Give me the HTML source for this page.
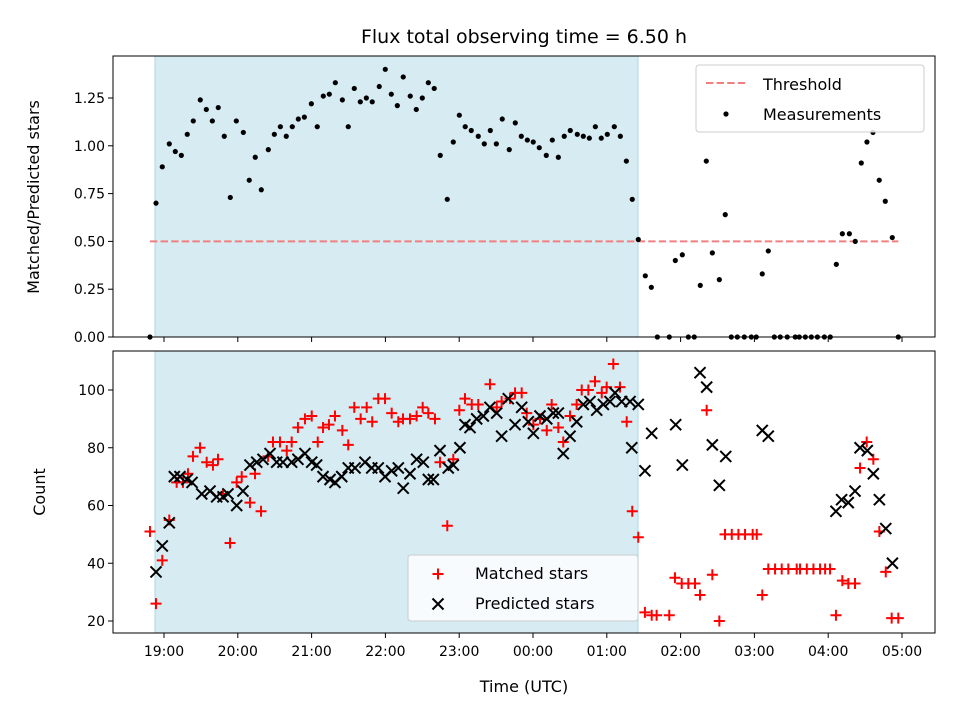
<!DOCTYPE html>
<html><head><meta charset="utf-8"><style>
body{margin:0;background:#fff;}
svg{display:block;font-family:"DejaVu Sans","Liberation Sans",sans-serif;}
</style></head><body>
<svg id="chart" width="960" height="720">
<rect width="960" height="720" fill="#fff"/>
<text x="524" y="43" font-size="19" text-anchor="middle">Flux total observing time = 6.50 h</text>
<g id="topPanel"></g>
<g id="botPanel"></g>
<text x="524" y="692" font-size="16" text-anchor="middle">Time (UTC)</text>
<text transform="translate(39,197) rotate(-90)" font-size="16" text-anchor="middle">Matched/Predicted stars</text>
<text transform="translate(45,492) rotate(-90)" font-size="16" text-anchor="middle">Count</text>
</svg>
<script>
// minutes since 19:00
const shadeRange = [-7.3, 385.4];
const threshold = 0.5;
const thresholdRange = [-11.4, 597];
const ratioTimes = [-11.4,-6.5,-1.4,4.3,9.2,14.1,18.9,23.8,29.5,34.4,39.3,44.1,49.0,53.9,58.8,64.5,69.3,74.2,79.1,84.8,89.7,94.6,99.4,104.3,109.2,114.1,119.8,124.6,129.5,134.4,139.3,145.0,149.8,154.7,159.6,164.5,169.3,175.0,179.9,184.8,189.7,194.5,200.2,205.1,210.0,214.9,219.7,224.6,230.3,235.2,240.1,244.9,249.8,255.5,260.4,265.3,270.2,275.0,280.7,285.6,290.5,295.4,300.2,305.1,310.8,315.7,320.6,325.4,330.3,336.0,340.9,345.8,350.7,355.5,360.4,366.1,371.0,375.9,380.7,385.6,391.3,396.2,401.1,410.8,415.7,421.4,426.3,431.1,436.0,440.9,445.8,451.5,456.3,461.2,466.1,471.8,477.5,481.5,486.4,491.3,496.2,501.0,506.7,513.2,516.5,521.4,526.3,531.2,536.9,541.7,546.6,551.5,557.2,562.0,566.9,571.5,576.4,581.5,586.4,592.1,597.0];
const ratioValues = [0,0.70,0.89,1.01,0.97,0.95,1.06,1.13,1.24,1.19,1.13,1.20,1.05,0.73,1.13,1.07,0.82,0.94,0.77,0.98,1.06,1.10,1.05,1.10,1.14,1.15,1.22,1.10,1.26,1.27,1.33,1.24,1.10,1.30,1.23,1.25,1.23,1.31,1.40,1.27,1.21,1.36,1.26,1.19,1.25,1.33,1.30,0.95,0.72,1.02,1.16,1.10,1.08,1.05,1.01,1.08,1.01,1.14,0.98,1.12,1.05,1.03,1.02,0.99,0.95,1.03,0.94,1.05,1.08,1.06,1.05,1.04,1.10,1.04,1.06,1.10,1.05,0.92,0.72,0.51,0.32,0.26,0,0,0.40,0.43,0,0,0.27,0.92,0.44,0.30,0.64,0,0,0,0,0,0.33,0.45,0,0,0,0,0,0,0,0,0,0,0.38,0.54,0.54,0.50,0.91,1.02,1.07,0.82,0.71,0.52,0];
const matchedTimes = [-11.4,-6.5,-1.4,4.3,10.3,15.4,19.5,23.6,29.3,34.7,39.8,43.9,48.0,53.7,59.1,63.2,69.9,74.0,78.9,84.6,88.6,94.3,99.8,103.8,108.9,114.6,120.1,125.0,129.3,134.1,139.0,145.0,149.8,154.7,159.9,164.8,169.3,174.2,179.7,185.1,190.5,194.3,200.0,205.4,210.3,214.9,220.3,224.4,230.3,235.2,240.1,244.7,250.2,255.5,265.0,270.5,274.5,281.3,285.4,290.8,294.9,300.3,305.7,311.2,315.2,320.6,324.6,330.1,335.5,339.6,345.0,350.4,355.9,359.9,365.3,370.7,376.2,380.7,385.6,391.0,396.5,400.5,410.8,415.4,420.9,426.3,431.7,435.8,441.2,445.8,451.5,456.1,461.6,467.0,472.4,478.6,481.9,486.4,491.3,496.8,502.2,507.6,514.4,517.1,522.6,528.0,533.4,537.5,541.5,546.3,551.5,556.4,561.8,565.9,571.3,576.7,581.6,586.8,591.6,597.0];
const matchedValues = [51,26,41,55,68,68,71,77,80,75,74,76,64,47,68,70,61,71,58,77,82,82,79,82,87,90,91,82,87,88,91,86,81,94,90,94,89,97,97,92,89,90,90,91,94,92,90,75,53,76,93,97,95,95,102,94,96,97,99,99,92,88,90,86,95,87,82,91,95,100,100,103,99,101,109,101,89,58,49,23,22,22,22,35,33,33,33,29,93,36,20,50,50,50,50,50,50,29,38,38,38,38,38,38,38,38,38,38,38,22,34,33,33,73,82,76,51,37,21,21];
const predictedTimes = [-6.5,-1.4,4.3,8.4,13.0,18.7,22.8,30.7,37.4,42.8,48.0,52.0,59.1,64.2,69.9,75.4,80.5,86.2,91.6,96.7,103.8,108.9,114.6,120.1,124.1,129.3,135.0,139.0,144.5,149.8,155.3,163.4,168.9,174.2,179.7,185.1,190.5,194.5,200.0,205.4,210.8,214.9,219.0,224.4,231.1,235.2,240.6,244.7,248.8,254.2,259.6,265.0,270.5,274.5,279.9,285.4,290.8,296.2,300.3,305.7,311.2,316.5,320.6,324.6,330.1,335.5,340.9,346.3,351.8,357.2,362.6,366.7,372.1,378.9,380.3,385.6,391.0,396.5,416.0,421.4,435.8,441.2,445.8,451.5,456.7,486.4,491.3,546.3,550.9,556.3,561.8,565.9,571.8,576.7,581.6,586.8,592.2];
const predictedValues = [37,46,54,70,70,69,68,64,65,63,63,64,60,65,74,75,76,78,75,75,75,76,78,75,74,70,69,68,70,73,73,75,73,73,70,72,73,66,71,76,75,69,69,79,73,74,80,88,87,90,91,94,92,84,97,88,94,89,85,91,90,92,92,78,84,89,95,96,93,95,96,99,96,96,80,95,72,85,88,74,106,101,81,67,77,86,84,58,62,61,65,80,79,71,62,52,40];
const xTickLabels = ["19:00","20:00","21:00","22:00","23:00","00:00","01:00","02:00","03:00","04:00","05:00"];
const topTickLabels = ["0.00","0.25","0.50","0.75","1.00","1.25"];
const botTickLabels = ["20","40","60","80","100"];

const NS="http://www.w3.org/2000/svg";
const X0=113,X1=935, T0=56,T1=337, B0=351,B1=633;
const xs = m => 164 + m*73.8/60;
const yTop = v => 337 - v*191.2;
const yBot = c => 621 - (c-20)*2.8875;
function mk(parent, tag, attrs){const e=document.createElementNS(NS,tag);for(const k in attrs)e.setAttribute(k,attrs[k]);parent.appendChild(e);return e;}

const topG=document.getElementById('topPanel'), botG=document.getElementById('botPanel');
[[topG,T0,T1],[botG,B0,B1]].forEach(([g,a,b],pi)=>{
  const s=mk(g,'rect',{x:xs(shadeRange[0]),y:a,width:xs(shadeRange[1])-xs(shadeRange[0]),height:b-a,fill:'#add8e6','fill-opacity':0.5,stroke:'#add8e6'});
  
  
});

const th=mk(topG,'line',{x1:xs(thresholdRange[0]),x2:xs(thresholdRange[1]),y1:yTop(threshold),y2:yTop(threshold),stroke:'#f08080','stroke-width':2,'stroke-dasharray':'7.4,3.2'});



ratioTimes.forEach((t,i)=>{
  const c=mk(topG,'circle',{cx:xs(t),cy:yTop(ratioValues[i]),r:2.6,fill:'#000'});
  
  
});
function plus(g,x,y){return mk(g,'path',{d:`M${x-5.5},${y}H${x+5.5}M${x},${y-5.5}V${y+5.5}`,stroke:'#f00','stroke-width':2,fill:'none'});}
function cross(g,x,y){return mk(g,'path',{d:`M${x-5.5},${y-5.5}L${x+5.5},${y+5.5}M${x-5.5},${y+5.5}L${x+5.5},${y-5.5}`,stroke:'#000','stroke-width':2,fill:'none'});}
matchedTimes.forEach((t,i)=>{
  const p=plus(botG,xs(t),yBot(matchedValues[i]));
  
  
});
predictedTimes.forEach((t,i)=>{
  const p=cross(botG,xs(t),yBot(predictedValues[i]));
  
  
});

[[topG,T0,T1],[botG,B0,B1]].forEach(([g,a,b],pi)=>{
  const f=mk(g,'rect',{x:X0,y:a,width:X1-X0,height:b-a,fill:'none',stroke:'#000','stroke-width':1});
  
  
  xTickLabels.forEach((l,i)=>{
    const x=xs(i*60);
    mk(g,'line',{x1:x,x2:x,y1:b,y2:b+5,stroke:'#000'});
    if(pi){
      const t=mk(g,'text',{x:x,y:b+23,'font-size':14,'text-anchor':'middle'});t.textContent=l;
      
      
    }
  });
});
topTickLabels.forEach(l=>{
  const y=yTop(parseFloat(l));
  mk(topG,'line',{x1:X0-5,x2:X0,y1:y,y2:y,stroke:'#000'});
  const t=mk(topG,'text',{x:X0-8,y:y+5,'font-size':14,'text-anchor':'end'});t.textContent=l;
  
  
});
botTickLabels.forEach(l=>{
  const y=yBot(parseFloat(l));
  mk(botG,'line',{x1:X0-5,x2:X0,y1:y,y2:y,stroke:'#000'});
  const t=mk(botG,'text',{x:X0-8,y:y+5,'font-size':14,'text-anchor':'end'});t.textContent=l;
  
  
});

const lg1=mk(topG,'g',{});


mk(lg1,'rect',{x:696,y:65,width:228,height:67,rx:3,fill:'#fff','fill-opacity':0.85,stroke:'#ccc'});
mk(lg1,'line',{x1:706,x2:746,y1:83,y2:83,stroke:'#f08080','stroke-width':2,'stroke-dasharray':'7.4,3.2'});
mk(lg1,'circle',{cx:726,cy:114,r:2.6,fill:'#000'});
let tx=mk(lg1,'text',{x:763,y:90,'font-size':16});tx.textContent='Threshold';


tx=mk(lg1,'text',{x:763,y:120,'font-size':16});tx.textContent='Measurements';



const lg2=mk(botG,'g',{});


mk(lg2,'rect',{x:408,y:555,width:230,height:66,rx:3,fill:'#fff','fill-opacity':0.8,stroke:'#ccc'});
plus(lg2,438,574);
cross(lg2,438,604);
tx=mk(lg2,'text',{x:475,y:579,'font-size':16});tx.textContent='Matched stars';


tx=mk(lg2,'text',{x:475,y:609,'font-size':16});tx.textContent='Predicted stars';


</script>
</body></html>
